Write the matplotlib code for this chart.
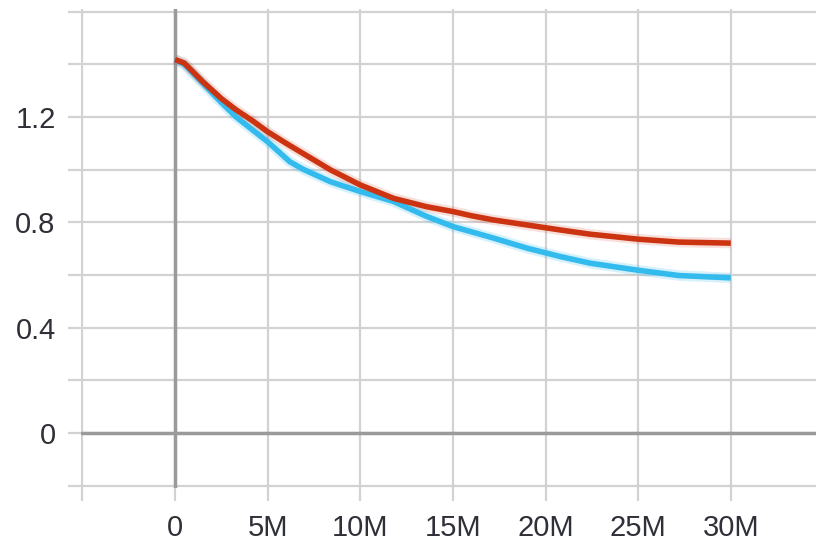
import numpy as np
import matplotlib
matplotlib.use('Agg')
import matplotlib.pyplot as plt

# values (steps in millions)
red_steps = [0, 0.5, 1.5, 2.5, 3.3, 4.2, 5, 6, 6.9, 8.4, 10, 11.8, 13.6, 15, 16, 17.2, 19, 20.8, 22.4, 25, 27.2, 30]
red_vals = [1.418, 1.405, 1.334, 1.27, 1.227, 1.185, 1.144, 1.10, 1.062, 0.999, 0.942, 0.891, 0.859, 0.841,
            0.825, 0.809, 0.79, 0.771, 0.755, 0.736, 0.725, 0.721]

blue_steps = [0, 0.5, 1.5, 2.5, 3.3, 4.2, 5, 5.6, 6.2, 6.9, 8.4, 10, 11.8, 13.6, 15, 17.2, 19, 20.8, 22.4, 25, 27.2, 30]
blue_vals = [1.418, 1.400, 1.328, 1.255, 1.20, 1.15, 1.106, 1.068, 1.030, 1.002, 0.954, 0.917, 0.879, 0.822, 0.784,
             0.74, 0.702, 0.67, 0.645, 0.618, 0.598, 0.589]

x_ticks = [-5e6, 0, 5e6, 10e6, 15e6, 20e6, 25e6, 30e6]
x_labels = ['', '0', '5M', '10M', '15M', '20M', '25M', '30M']
y_ticks = [-0.2, 0, 0.2, 0.4, 0.6, 0.8, 1.0, 1.2, 1.4, 1.6]
y_labels = ['', '0', '', '0.4', '', '0.8', '', '1.2', '', '']

plt.rcParams['font.family'] = ['Liberation Sans', 'DejaVu Sans']

fig = plt.figure(figsize=(8.16, 5.43), dpi=100)
ax = fig.add_axes([0.0998, 0.1007, 0.9002, 0.8827])

grid_c = '#d2d2d2'
ax.set_xlim(-5.05e6, 34.6e6)
ax.set_ylim(-0.21, 1.61)
ax.set_xticks(x_ticks)
ax.set_xticklabels(x_labels)
ax.set_yticks(y_ticks)
ax.set_yticklabels(y_labels)
ax.grid(True, color=grid_c, linewidth=1.6)
ax.set_axisbelow(True)
for s in ax.spines.values():
    s.set_visible(False)
ax.tick_params(direction='out', length=9.5, width=1.6, color=grid_c,
               labelsize=21, labelcolor='#2f3038', pad=9)

ax.axhline(0, color='#9a9a9a', linewidth=2.5, zorder=1)
ax.axvline(0, color='#9a9a9a', linewidth=2.5, zorder=1)

rx = np.array(red_steps) * 1e6
bx = np.array(blue_steps) * 1e6
ax.plot(bx, blue_vals, color='#33bbee', linewidth=7.5, alpha=0.2, solid_capstyle='butt', zorder=2)
ax.plot(rx, red_vals, color='#cc3311', linewidth=7.5, alpha=0.15, solid_capstyle='butt', zorder=2)
ax.plot(bx, blue_vals, color='#33bbee', linewidth=4, solid_capstyle='butt', solid_joinstyle='round', zorder=3)
ax.plot(rx, red_vals, color='#cc3311', linewidth=4, solid_capstyle='butt', solid_joinstyle='round', zorder=4)

fig.savefig('out.png', dpi=100)
